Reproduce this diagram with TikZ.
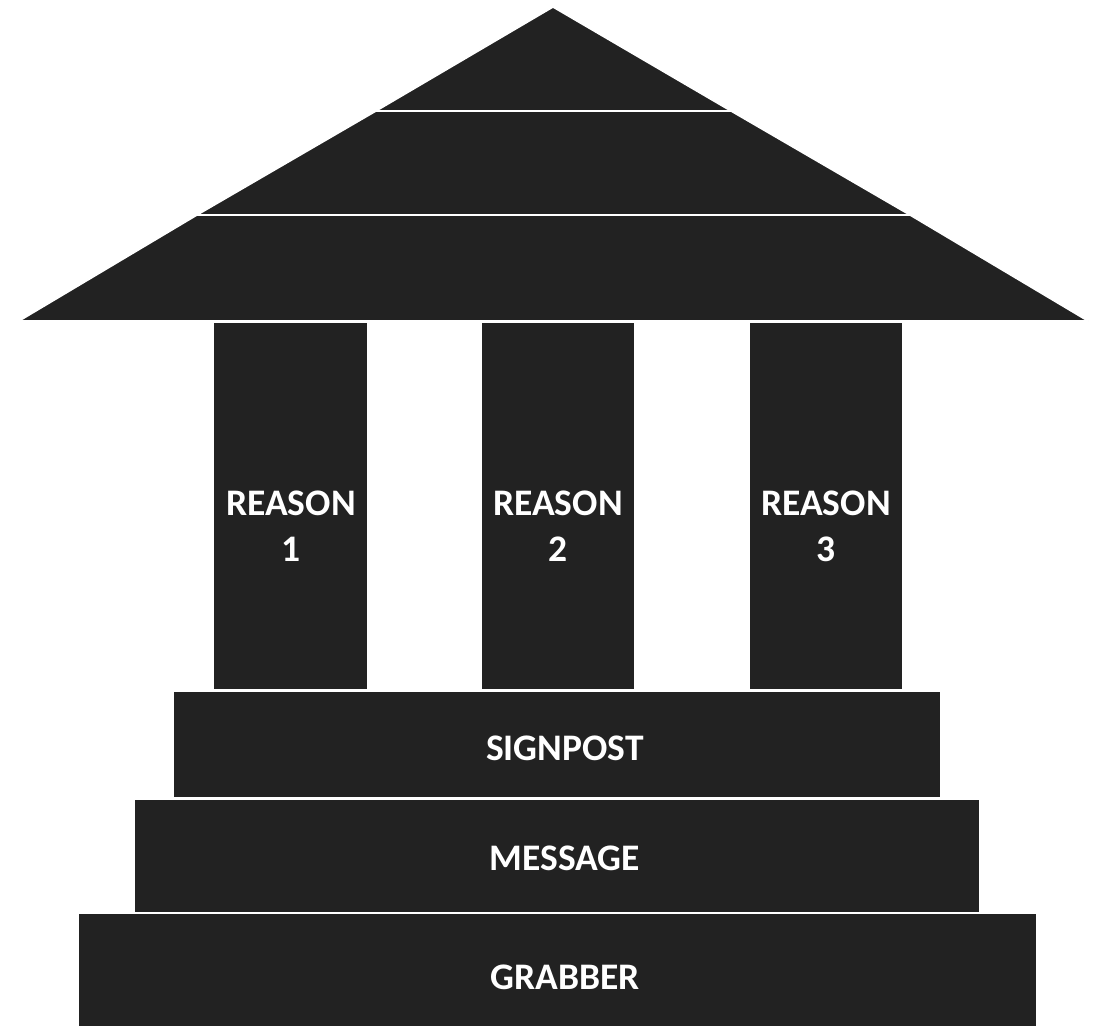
\documentclass[tikz,border=0pt]{standalone}
\usepackage{fontspec}
\setmainfont{Carlito}
\definecolor{blk}{HTML}{222222}
\begin{document}
\begin{tikzpicture}[x=1pt,y=-1pt,
  part/.style={fill=blk,draw=white,line width=1.6pt,line join=round},
  lbl/.style={text=white,font=\fontsize{37.5}{46}\selectfont\bfseries,align=center,inner sep=0pt}]
\useasboundingbox (0,0) rectangle (1107,1025);
% roof
\path[part] (553,7) -- (731,111) -- (376,111) -- cycle;
\path[part] (376,111) -- (731,111) -- (910,215) -- (197,215) -- cycle;
\path[part] (197,215) -- (910,215) -- (1088,321) -- (19,321) -- cycle;
% columns
\path[part] (213,322) rectangle (368,690);
\path[part] (481,322) rectangle (635,690);
\path[part] (749,322) rectangle (903,690);
% steps
\path[part] (173,691) rectangle (941,798);
\path[part] (134,799) rectangle (980,914);
\path[part] (78,913) rectangle (1037,1030);
% labels
\node[lbl] (r1) at (291,526) {REASON\\1};
\node[lbl] (r2) at (558,526) {REASON\\2};
\node[lbl] (r3) at (826,526) {REASON\\3};
\node[lbl] (sp) at (565,748) {SIGNPOST};
\node[lbl] (ms) at (565,858) {MESSAGE};
\node[lbl] (gb) at (565,977) {GRABBER};
\end{tikzpicture}
\end{document}
